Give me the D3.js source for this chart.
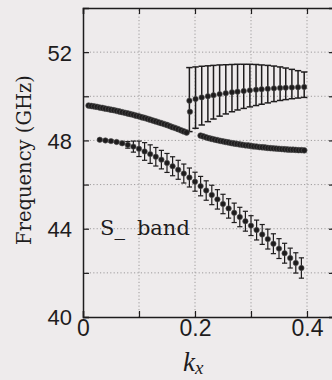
<!DOCTYPE html>
<html>
<head>
<meta charset="utf-8">
<script src="https://cdn.jsdelivr.net/npm/d3@7"></script>
<style>
  html, body { margin: 0; padding: 0; background: #eeebec; }
  svg { display: block; }
</style>
</head>
<body>
<svg id="chart" width="332" height="380"></svg>
<script>
// Upper band, left branch (dense sampling)
const upperLeftK = [0.010,0.015,0.020,0.025,0.030,0.035,0.040,0.045,0.050,0.055,0.060,0.065,0.070,0.075,0.080,0.085,0.090,0.095,0.100,0.105,0.110,0.115,0.120,0.125,0.130,0.135,0.140,0.145,0.150,0.155,0.160,0.165,0.170,0.175,0.180,0.185];
const upperLeftF = [49.58,49.56,49.54,49.52,49.49,49.47,49.44,49.42,49.39,49.37,49.34,49.31,49.28,49.25,49.22,49.19,49.16,49.12,49.09,49.05,49.02,48.98,48.94,48.90,48.86,48.82,48.78,48.74,48.70,48.65,48.60,48.56,48.51,48.46,48.41,48.36];

// Upper band, right lower branch (dense sampling)
const lowerRightK = [0.210,0.215,0.220,0.225,0.230,0.235,0.240,0.245,0.250,0.255,0.260,0.265,0.270,0.275,0.280,0.285,0.290,0.295,0.300,0.305,0.310,0.315,0.320,0.325,0.330,0.335,0.340,0.345,0.350,0.355,0.360,0.365,0.370,0.375,0.380,0.385,0.390,0.395];
const lowerRightF = [48.22,48.18,48.14,48.10,48.07,48.04,48.01,47.98,47.96,47.93,47.91,47.88,47.86,47.84,47.82,47.80,47.78,47.77,47.75,47.73,47.72,47.70,47.69,47.68,47.66,47.65,47.64,47.63,47.62,47.61,47.60,47.59,47.58,47.58,47.57,47.56,47.56,47.55];

// Upper right branch with wide (asymmetric) error bars
const upperRightK  = [0.190,0.201,0.212,0.223,0.233,0.244,0.255,0.266,0.276,0.287,0.298,0.309,0.319,0.330,0.341,0.352,0.362,0.373,0.384,0.395];
const upperRightF  = [49.80,49.88,49.95,50.00,50.05,50.10,50.14,50.18,50.21,50.24,50.27,50.30,50.32,50.34,50.36,50.38,50.39,50.40,50.41,50.42];
const upperRightHi = [51.30,51.33,51.36,51.38,51.40,51.42,51.43,51.44,51.45,51.45,51.45,51.44,51.42,51.40,51.37,51.33,51.28,51.22,51.16,51.10];
const upperRightLo = [48.40,48.55,48.70,48.85,48.97,49.10,49.20,49.30,49.38,49.45,49.52,49.58,49.64,49.70,49.76,49.81,49.85,49.89,49.92,49.95];
// stray low point at the start of the upper right branch
const strayK = [0.191];
const strayF = [49.30];

// S_ band main branch with error bars
const sBandK = [0.03,0.04,0.05,0.06,0.07,0.08,0.09,0.10,0.11,0.12,0.13,0.14,0.15,0.16,0.17,0.18,0.19,0.20,0.21,0.22,0.23,0.24,0.25,0.26,0.27,0.28,0.29,0.30,0.31,0.32,0.33,0.34,0.35,0.36,0.37,0.38,0.39];
const sBandF = [48.03,48.00,47.97,47.93,47.87,47.80,47.72,47.62,47.50,47.38,47.26,47.13,46.98,46.83,46.67,46.50,46.32,46.13,45.93,45.73,45.53,45.33,45.12,44.92,44.72,44.53,44.34,44.14,43.94,43.74,43.53,43.32,43.10,42.89,42.67,42.45,42.22];
const sBandErr = [0.04,0.04,0.05,0.05,0.06,0.15,0.25,0.35,0.40,0.42,0.42,0.42,0.43,0.43,0.43,0.43,0.43,0.43,0.44,0.44,0.44,0.44,0.44,0.44,0.44,0.44,0.45,0.45,0.45,0.45,0.45,0.45,0.45,0.45,0.45,0.46,0.46];

const yTicks = [40,42,44,46,48,50,52];
const yTickLabels = {40:"40", 44:"44", 48:"48", 52:"52"};
const xTicks = [0,0.1,0.2,0.3,0.4];
const xTickLabels = {0:"0", 0.2:"0.2", 0.4:"0.4"};
const bandLabel = ["S_", "band"];
const yTitle = "Frequency (GHz)";

const svg = d3.select("#chart");
const ink = "#1e1c1d";

const x = d3.scaleLinear().domain([0, 0.45]).range([83, 335]);
const y = d3.scaleLinear().domain([40, 54]).range([317, 8]);

// dotted grid
const grid = svg.append("g").attr("stroke", "#8a8889").attr("stroke-width", 0.8)
  .attr("stroke-dasharray", "1.2,2.2");
grid.selectAll("line.h").data(yTicks.filter(d => d > 40)).join("line")
  .attr("x1", x(0)).attr("x2", x(0.45)).attr("y1", d => y(d)).attr("y2", d => y(d));
grid.selectAll("line.v").data(xTicks.filter(d => d > 0)).join("line")
  .attr("y1", y(40)).attr("y2", y(54)).attr("x1", d => x(d)).attr("x2", d => x(d));

// axes with inward ticks
const fmtY = d => yTickLabels[d] || "";
const fmtX = d => xTickLabels[d] !== undefined ? xTickLabels[d] : "";

const axL = svg.append("g").attr("transform", `translate(${x(0)},0)`)
  .call(d3.axisLeft(y).tickValues(yTicks).tickSize(-6).tickPadding(11).tickFormat(fmtY));
const axR = svg.append("g").attr("transform", `translate(${x(0.45)},0)`)
  .call(d3.axisRight(y).tickValues(yTicks).tickSize(-6).tickFormat(""));
const axB = svg.append("g").attr("transform", `translate(0,${y(40)})`)
  .call(d3.axisBottom(x).tickValues(xTicks).tickSize(-6).tickPadding(3).tickFormat(fmtX));
const axT = svg.append("g").attr("transform", `translate(0,${y(54)})`)
  .call(d3.axisTop(x).tickValues(xTicks).tickSize(-6).tickFormat(""));

[axL, axR, axB, axT].forEach(a => {
  a.select(".domain").attr("stroke", ink).attr("stroke-width", 1.5);
  a.selectAll(".tick line").attr("stroke", ink).attr("stroke-width", 1.2);
  a.selectAll(".tick text").attr("fill", ink)
    .style("font-family", "'Liberation Sans', Arial, sans-serif");
});
axL.selectAll(".tick text").style("font-size", "22px").attr("dy", "0.36em");
axB.selectAll(".tick text").style("font-size", "23px");

// marks
const marks = svg.append("g");

function errorBars(g, ks, lo, hi, cap, width) {
  const bars = g.append("g").attr("stroke", ink).attr("stroke-width", width);
  ks.forEach((k, i) => {
    const cx = x(k);
    bars.append("line").attr("x1", cx).attr("x2", cx).attr("y1", y(lo[i])).attr("y2", y(hi[i]));
    bars.append("line").attr("x1", cx - cap).attr("x2", cx + cap).attr("y1", y(lo[i])).attr("y2", y(lo[i]));
    bars.append("line").attr("x1", cx - cap).attr("x2", cx + cap).attr("y1", y(hi[i])).attr("y2", y(hi[i]));
  });
}
function dots(g, ks, fs, r) {
  g.append("g").selectAll("circle").data(ks).join("circle")
    .attr("cx", d => x(d)).attr("cy", (d, i) => y(fs[i])).attr("r", r)
    .attr("fill", ink).attr("stroke", "#555").attr("stroke-width", 0.6);
}

errorBars(marks, upperRightK, upperRightLo, upperRightHi, 3.2, 1.5);
errorBars(marks, sBandK, sBandF.map((f, i) => f - sBandErr[i]), sBandF.map((f, i) => f + sBandErr[i]), 2.6, 1.2);

dots(marks, upperLeftK, upperLeftF, 2.9);
dots(marks, lowerRightK, lowerRightF, 2.9);
dots(marks, upperRightK, upperRightF, 2.7);
dots(marks, strayK, strayF, 2.7);
dots(marks, sBandK, sBandF, 2.7);

// band label
const lbl = svg.append("text").attr("x", 100).attr("y", 235)
  .attr("fill", ink).style("font-family", "'DejaVu Serif', serif").style("font-size", "21px");
lbl.append("tspan").text(bandLabel[0]);
lbl.append("tspan").attr("dx", 12).text(bandLabel[1]);

// axis titles
svg.append("text").attr("transform", "translate(31,160) rotate(-90)")
  .attr("text-anchor", "middle").attr("fill", ink)
  .style("font-family", "'DejaVu Serif', serif").style("font-size", "19.5px")
  .text(yTitle);

const xt = svg.append("text").attr("x", 183).attr("y", 371).attr("fill", ink)
  .style("font-family", "'Liberation Serif', 'Times New Roman', serif")
  .style("font-style", "italic");
xt.append("tspan").style("font-size", "27px").text("k");
xt.append("tspan").style("font-size", "19px").attr("dy", 3).text("x");
</script>
</body>
</html>
